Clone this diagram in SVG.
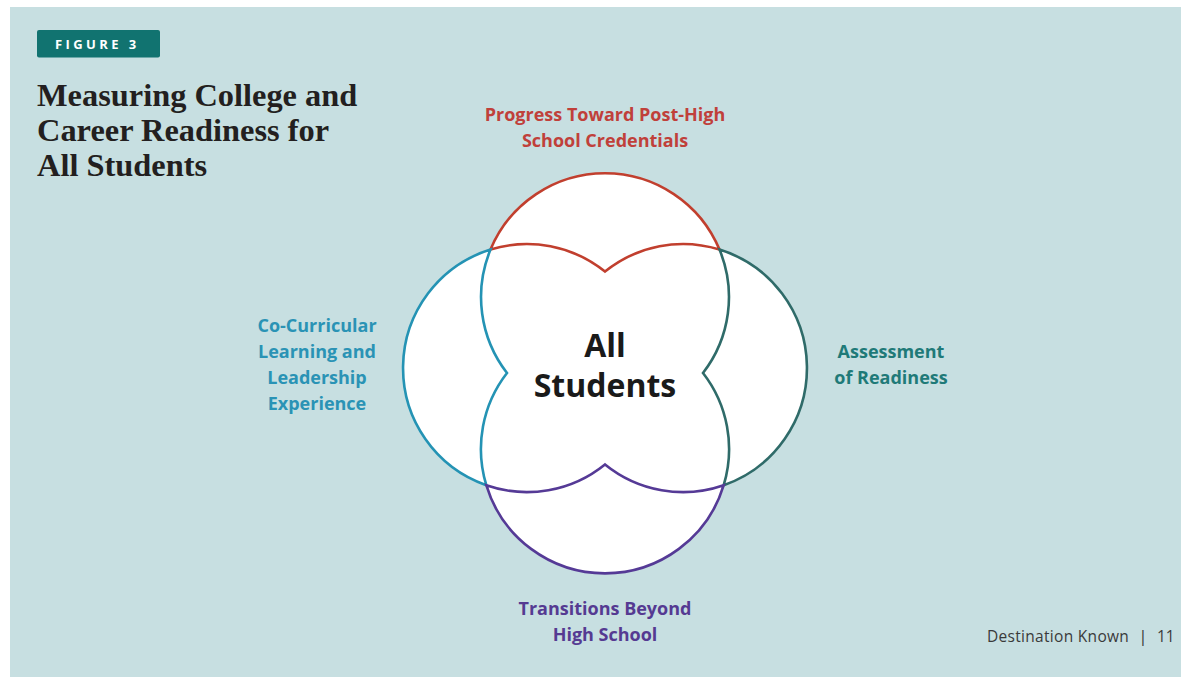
<svg xmlns="http://www.w3.org/2000/svg" width="1181" height="677" viewBox="0 0 1181 677">
  <style>
    .title { font-family: "Liberation Serif", "Times New Roman", serif; font-weight: bold; font-size: 32.4px; fill: #231f20; }
    .lbl { font-family: "Open Sans", Lato, "Liberation Sans", sans-serif; font-weight: bold; font-size: 18px; text-anchor: middle; }
    .petal { fill: none; stroke-width: 2.6; stroke-linejoin: miter; }
    .disc { fill: #ffffff; stroke: none; }
  </style>
  <rect x="0" y="0" width="1181" height="677" fill="#ffffff"/>
  <rect x="10" y="7" width="1171" height="670" fill="#c7dfe1"/>

  <g id="figure-badge">
    <rect x="37" y="30" width="123" height="27.5" rx="2" fill="#117370"/>
    <text x="55" y="49" font-family="'Open Sans', Lato, 'Liberation Sans', sans-serif" font-weight="bold" font-size="13" letter-spacing="3.4" fill="#ffffff">FIGURE 3</text>
  </g>

  <g id="title">
    <text class="title" x="37" y="106">Measuring College and</text>
    <text class="title" x="37" y="141">Career Readiness for</text>
    <text class="title" x="37" y="175.5">All Students</text>
  </g>

  <g id="connectors">
    <circle class="disc" cx="605" cy="297" r="124"/>
    <circle class="disc" cx="605" cy="449" r="124"/>
    <circle class="disc" cx="527" cy="368" r="124"/>
    <circle class="disc" cx="683" cy="368" r="124"/>
  </g>

  <g id="node-progress">
    <path class="petal" stroke="#c13f2e" d="M490.5,249.6 A124,124 0 0 1 719.5,249.6 A124,124 0 0 0 605,271.6 A124,124 0 0 0 490.5,249.6 Z"/>
    <text class="lbl" fill="#c0403a" x="605" y="121">Progress Toward Post-High</text>
    <text class="lbl" fill="#c0403a" x="605" y="147">School Credentials</text>
  </g>

  <g id="node-cocurricular">
    <path class="petal" stroke="#2493b4" d="M490.5,249.6 A124,124 0 0 0 486.3,485.2 A124,124 0 0 1 507,373 A124,124 0 0 1 490.5,249.6 Z"/>
    <text class="lbl" fill="#2a93b5" x="317" y="332">Co-Curricular</text>
    <text class="lbl" fill="#2a93b5" x="317" y="358">Learning and</text>
    <text class="lbl" fill="#2a93b5" x="317" y="384">Leadership</text>
    <text class="lbl" fill="#2a93b5" x="317" y="410">Experience</text>
  </g>

  <g id="node-assessment">
    <path class="petal" stroke="#2f6b69" d="M719.5,249.6 A124,124 0 0 1 723.7,485.2 A124,124 0 0 0 703,373 A124,124 0 0 0 719.5,249.6 Z"/>
    <text class="lbl" fill="#1f7a78" x="891" y="358">Assessment</text>
    <text class="lbl" fill="#1f7a78" x="891" y="384">of Readiness</text>
  </g>

  <g id="node-transitions">
    <path class="petal" stroke="#553a96" d="M486.3,485.2 A124,124 0 0 0 723.7,485.2 A124,124 0 0 1 605,464.4 A124,124 0 0 1 486.3,485.2 Z"/>
    <text class="lbl" fill="#553a92" x="605" y="615">Transitions Beyond</text>
    <text class="lbl" fill="#553a92" x="605" y="641">High School</text>
  </g>

  <g id="node-center">
    <text x="605" y="357" font-family="'Open Sans', Lato, 'Liberation Sans', sans-serif" font-weight="bold" font-size="32" text-anchor="middle" fill="#1a1a1a">All</text>
    <text x="605" y="397" font-family="'Open Sans', Lato, 'Liberation Sans', sans-serif" font-weight="bold" font-size="32" text-anchor="middle" fill="#1a1a1a">Students</text>
  </g>

  <g id="footer">
    <text x="987" y="642" font-family="'Open Sans', Lato, 'Liberation Sans', sans-serif" font-size="15.5" letter-spacing="0.3" fill="#3a3a3a">Destination Known</text>
    <text x="1143" y="642" font-family="'Open Sans', Lato, 'Liberation Sans', sans-serif" font-size="17" fill="#3a3a3a" text-anchor="middle">|</text>
    <text x="1157" y="642" font-family="'Open Sans', Lato, 'Liberation Sans', sans-serif" font-size="15.5" fill="#3a3a3a">11</text>
  </g>
</svg>
